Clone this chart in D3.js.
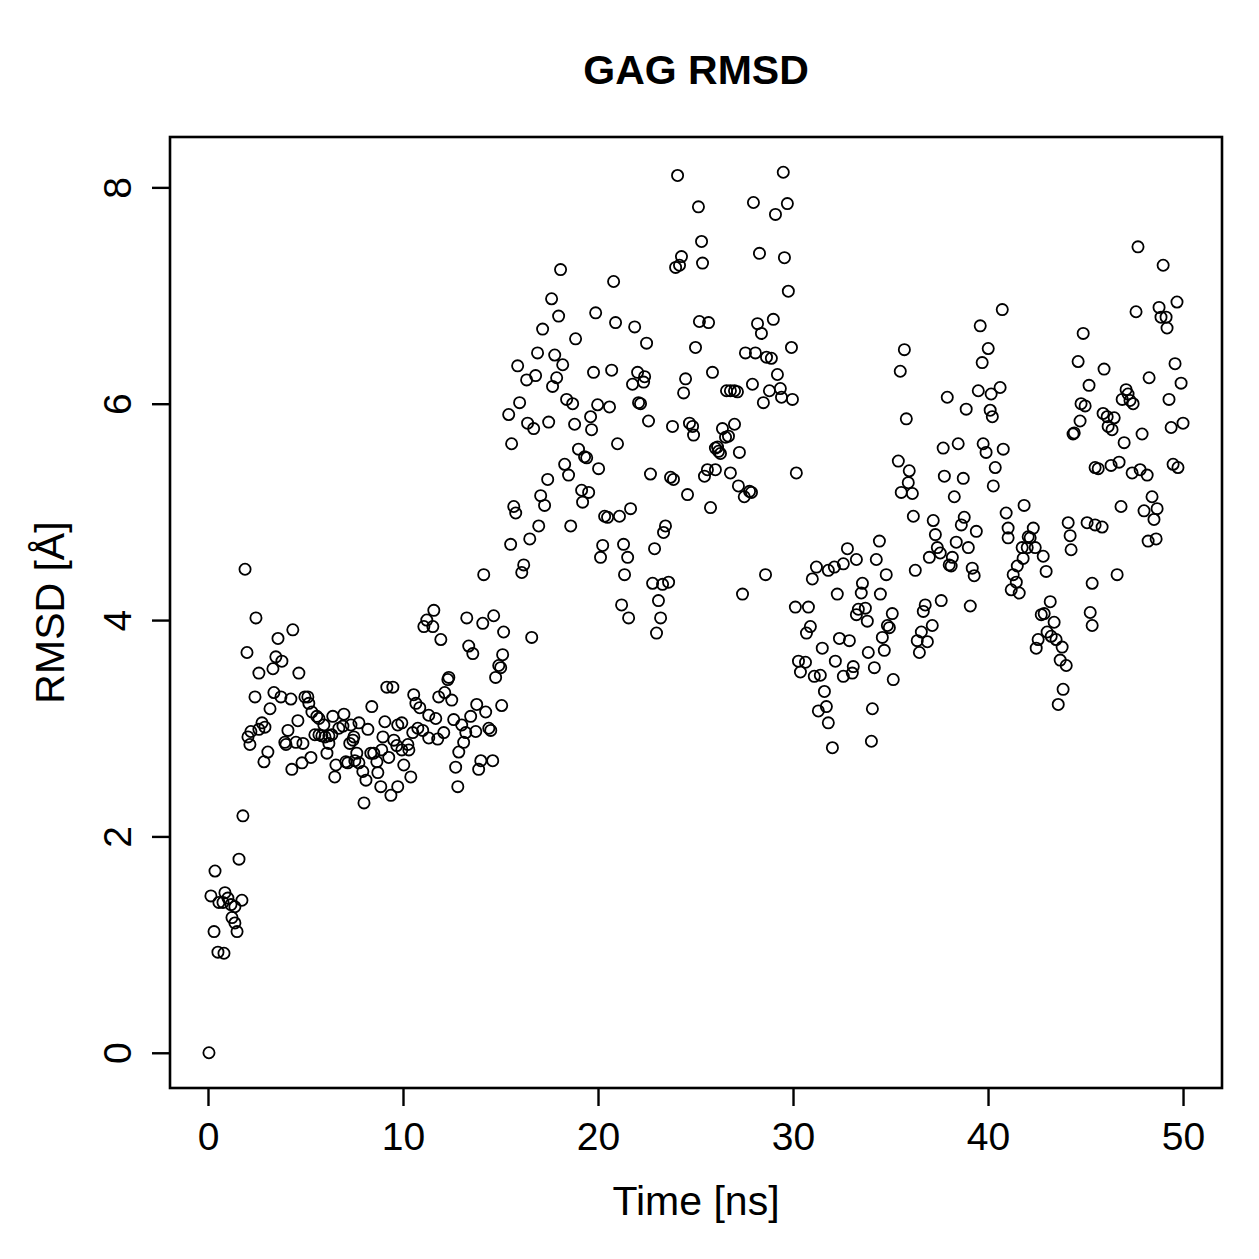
<!DOCTYPE html>
<html><head><meta charset="utf-8">
<script src="https://cdn.jsdelivr.net/npm/d3@7"></script>
<style>body{margin:0;background:#fff} text{font-family:"Liberation Sans",Arial,Helvetica,sans-serif;fill:#000}</style>
</head><body><svg id="c" width="1259" height="1259"></svg>
<script>
const title = "GAG RMSD";
const xLabel = "Time [ns]";
const yLabel = "RMSD [Å]";
const xTicks = [0, 10, 20, 30, 40, 50];
const yTicks = [0, 2, 4, 6, 8];

const timeNs = [
0.05,0.15,0.36,0.31,0.51,0.82,0.56,0.77,0.87,1.02,1.18,1.38,1.74,1.23,1.38,1.49,1.59,1.79,1.90,2.00,
2.05,2.15,2.20,2.41,2.46,2.61,2.61,2.77,2.92,2.87,3.07,3.18,3.33,3.38,3.48,3.59,3.79,3.74,3.94,4.00,
4.10,4.25,4.30,4.35,4.51,4.61,4.66,4.82,4.87,4.97,
5.12,5.17,5.33,5.58,5.69,5.28,5.48,5.69,5.84,6.00,6.20,6.35,5.94,6.40,6.20,6.10,6.71,6.92,6.97,7.33,
7.74,8.20,7.43,7.48,7.27,7.63,7.53,6.56,6.50,7.07,7.17,7.74,7.94,8.10,8.00,8.40,8.35,8.50,8.66,8.71,
8.86,9.07,8.97,8.91,9.27,9.17,9.48,9.53,9.68,9.94,9.94,9.73,9.38,9.73,10.04,
14.14,11.58,11.22,11.07,11.53,11.94,13.27,14.09,14.65,13.37,13.58,15.16,15.11,14.91,15.01,14.75,12.35,12.30,12.14,11.83,
12.50,10.55,10.66,10.86,11.32,11.68,13.78,14.24,13.47,15.06,12.60,13.01,13.22,13.11,12.86,12.70,12.81,13.73,14.40,14.50,
10.50,10.76,11.01,11.32,11.78,12.09,10.25,10.30,10.40,13.99,13.88,14.60,
18.08,17.62,17.98,19.88,17.16,18.85,16.90,17.78,18.19,15.88,16.34,16.80,17.88,17.67,19.77,15.98,15.42,18.39,18.70,19.98,
19.62,19.67,16.39,16.70,17.47,18.80,15.57,19.00,19.31,19.42,20.03,18.29,18.49,17.42,17.06,17.26,19.16,19.52,19.21,15.68,
15.78,16.96,16.50,15.52,18.60,16.19,16.09,20.24,20.13,16.60,
24.28,23.98,24.18,25.36,20.80,20.90,21.88,22.49,25.00,24.49,24.39,20.70,22.03,22.39,21.77,22.34,20.59,22.08,22.18,22.59,
23.82,24.69,24.85,24.90,21.00,22.69,23.72,23.87,24.59,21.67,21.10,20.49,20.34,23.46,23.36,21.31,21.52,22.90,21.36,22.80,
23.31,23.62,23.10,23.21,23.00,21.21,21.57,24.08,
29.50,27.97,29.71,29.10,25.15,25.31,28.28,29.56,29.76,25.20,25.67,28.18,28.38,28.99,27.56,28.07,28.64,28.89,29.92,25.87,
27.92,29.20,26.59,26.79,27.00,27.15,28.79,28.48,29.35,29.41,29.97,26.38,27.00,26.54,26.69,26.02,26.18,26.28,26.13,27.25,
25.61,25.46,26.02,26.79,27.20,27.50,27.77,27.87,25.77,30.17,28.59,27.41,
30.12,30.79,34.43,32.79,33.25,32.58,32.12,31.81,31.20,30.99,34.27,34.78,33.56,33.50,32.27,34.48,33.35,33.71,33.25,33.81,
35.09,34.84,34.94,34.58,34.68,30.89,30.69,32.38,32.89,31.50,33.86,30.28,30.64,30.38,31.09,31.40,32.17,33.09,33.04,32.58,
34.17,35.14,31.61,31.71,31.30,31.81,34.07,32.02,34.02,
39.60,40.01,39.70,35.71,35.50,37.91,38.88,39.50,40.16,40.11,40.22,35.81,37.70,38.47,39.75,39.90,40.37,40.27,35.40,35.96,
35.91,35.55,36.12,37.76,38.73,38.27,36.17,37.19,37.30,38.78,38.63,39.40,37.40,36.99,37.55,38.37,38.99,38.17,38.01,38.11,
39.19,39.29,36.27,36.78,36.68,37.60,39.09,37.14,36.58,36.89,36.37,36.48,
40.73,44.88,44.62,40.62,45.18,44.77,44.98,44.72,44.42,44.36,40.78,45.49,41.85,40.93,41.03,41.03,42.32,42.06,42.16,41.75,
42.01,42.42,42.83,41.80,42.98,41.50,41.29,41.45,41.19,41.60,45.08,45.49,44.11,44.21,44.26,45.34,43.19,42.73,42.88,43.39,
43.03,43.24,43.49,43.80,42.57,42.47,43.70,44.01,45.24,45.34,43.85,43.60,
47.69,48.98,49.69,47.59,48.77,48.87,49.13,49.18,49.59,45.95,48.26,49.90,47.08,47.18,46.88,47.28,47.44,49.28,45.90,46.11,
46.47,46.16,46.36,47.90,46.98,49.39,50.00,45.65,46.31,46.72,47.39,47.80,48.16,48.41,48.00,48.67,48.51,49.49,49.74,46.82,
45.85,48.21,48.62,46.62
];

const rmsd = [
0.00,1.45,1.68,1.12,0.93,0.92,1.39,1.39,1.48,1.43,1.37,1.35,1.41,1.25,1.20,1.12,1.79,2.19,4.47,3.70,
2.92,2.85,2.97,3.29,4.02,3.51,2.99,3.05,3.01,2.69,2.78,3.18,3.55,3.33,3.66,3.83,3.62,3.29,2.87,2.85,
2.98,3.27,2.62,3.91,2.87,3.07,3.51,2.68,2.86,3.29,
3.29,3.23,3.15,3.11,3.09,2.73,2.94,2.94,2.93,2.92,2.93,2.94,3.03,3.11,2.86,2.77,3.00,3.02,3.13,3.03,
3.05,2.99,2.89,2.92,2.86,2.77,2.70,2.66,2.55,2.69,2.68,2.68,2.60,2.52,2.31,3.20,2.77,2.77,2.69,2.59,
2.46,3.06,2.92,2.80,2.73,3.38,3.38,2.89,2.84,2.80,3.05,3.03,2.38,2.46,2.66,
4.42,4.09,4.00,3.94,3.94,3.82,4.02,3.97,4.04,3.76,3.69,3.89,3.68,3.58,3.56,3.47,3.47,3.45,3.33,3.29,
3.26,3.31,3.23,3.19,3.12,3.09,3.22,3.15,3.11,3.21,3.08,3.03,2.96,2.87,2.78,2.64,2.46,2.97,3.00,2.98,
2.96,3.00,2.98,2.91,2.90,2.96,2.85,2.80,2.55,2.70,2.62,2.70,
7.24,6.97,6.81,6.84,6.69,6.60,6.47,6.45,6.36,6.35,6.22,6.26,6.24,6.16,6.29,6.01,5.90,6.04,6.00,5.99,
5.88,5.76,5.82,5.77,5.83,5.81,5.63,5.58,5.51,5.50,5.40,5.44,5.34,5.30,5.15,5.06,5.20,5.18,5.09,5.05,
4.99,4.87,4.75,4.70,4.87,4.51,4.44,4.69,4.58,3.84,
7.36,7.26,7.28,7.30,7.13,6.75,6.71,6.56,6.52,6.23,6.10,6.31,6.29,6.25,6.18,6.20,5.97,6.01,6.00,5.84,
5.79,5.82,5.79,5.71,5.63,5.35,5.32,5.30,5.16,5.03,4.96,4.95,4.96,4.87,4.81,4.70,4.58,4.66,4.42,4.34,
4.33,4.35,4.18,4.02,3.88,4.14,4.02,8.11,
8.14,7.86,7.85,7.75,7.82,7.50,7.39,7.35,7.04,6.76,6.75,6.74,6.65,6.78,6.47,6.47,6.43,6.42,6.52,6.29,
6.18,6.27,6.12,6.12,6.12,6.11,6.12,6.01,6.14,6.06,6.04,5.77,5.81,5.69,5.70,5.59,5.56,5.54,5.60,5.55,
5.39,5.33,5.39,5.36,5.24,5.14,5.19,5.18,5.04,5.36,4.42,4.24,
4.12,4.12,4.73,4.66,4.56,4.52,4.49,4.46,4.49,4.38,4.56,4.42,4.34,4.25,4.24,4.24,4.10,4.11,4.05,3.99,
4.06,3.95,3.93,3.84,3.72,3.94,3.88,3.83,3.81,3.74,3.70,3.62,3.61,3.52,3.48,3.49,3.62,3.57,3.51,3.48,
3.56,3.45,3.34,3.20,3.16,3.05,3.18,2.82,2.88,
6.72,6.51,6.38,6.50,6.30,6.06,5.95,6.12,6.09,5.94,5.88,5.86,5.59,5.63,5.63,5.55,5.41,5.24,5.47,5.38,
5.27,5.18,5.17,5.33,5.31,5.14,4.96,4.92,4.79,4.95,4.88,4.82,4.67,4.58,4.62,4.72,4.67,4.58,4.51,4.50,
4.48,4.41,4.46,4.14,4.08,4.18,4.13,3.95,3.89,3.80,3.81,3.70,
6.87,6.65,6.39,6.15,6.17,6.00,5.98,5.84,5.73,5.72,5.58,5.41,5.06,4.99,4.85,4.76,4.85,4.77,4.76,4.67,
4.67,4.67,4.59,4.57,4.45,4.50,4.42,4.35,4.28,4.25,4.90,4.88,4.90,4.78,4.65,4.34,4.17,4.05,4.06,3.98,
3.89,3.85,3.82,3.75,3.82,3.74,3.63,3.58,4.07,3.95,3.36,3.22,
7.45,7.28,6.94,6.85,6.89,6.80,6.80,6.70,6.37,6.32,6.24,6.19,6.13,6.09,6.04,6.03,6.00,6.04,5.91,5.88,
5.87,5.79,5.76,5.72,5.64,5.78,5.82,5.40,5.43,5.46,5.36,5.39,5.34,5.14,5.01,5.03,4.93,5.44,5.41,5.05,
4.86,4.73,4.75,4.42
];

const W = 1259, H = 1259;
const L = 170, R = 1222, T = 137, B = 1088;
const svg = d3.select("#c");
svg.append("rect").attr("width", W).attr("height", H).attr("fill", "#fff");

function pad(ext) { const d = (ext[1] - ext[0]) * 0.04; return [ext[0] - d, ext[1] + d]; }
const x = d3.scaleLinear().domain(pad(d3.extent(timeNs))).range([L, R]);
const y = d3.scaleLinear().domain(pad(d3.extent(rmsd))).range([B, T]);

const pts = timeNs.map((t, i) => ({ t, r: rmsd[i] }));

svg.append("g").selectAll("circle").data(pts).join("circle")
  .attr("cx", d => x(d.t)).attr("cy", d => y(d.r)).attr("r", 5.6)
  .attr("fill", "none").attr("stroke", "#000").attr("stroke-width", 1.8);

// axes
const fsTick = 39, fsLab = 41;
const gx = svg.append("g").attr("transform", `translate(0,${B})`)
  .call(d3.axisBottom(x).tickValues(xTicks).tickSize(18).tickSizeOuter(0).tickFormat(d3.format("d")));
gx.select(".domain").remove();
gx.selectAll(".tick line").attr("stroke", "#000").attr("stroke-width", 2.4);
gx.selectAll(".tick text").attr("font-size", fsTick).attr("y", 62).attr("dy", 0)
  .attr("font-family", "Liberation Sans, Arial, sans-serif");

const gy = svg.append("g").attr("transform", `translate(${L},0)`)
  .call(d3.axisLeft(y).tickValues(yTicks).tickSize(18).tickSizeOuter(0).tickFormat(d3.format("d")));
gy.select(".domain").remove();
gy.selectAll(".tick line").attr("stroke", "#000").attr("stroke-width", 2.4);
gy.selectAll(".tick text").attr("font-size", fsTick).attr("x", 0).attr("dy", 0)
  .attr("text-anchor", "middle").attr("transform", `translate(${131 - L},0) rotate(-90)`)
  .attr("font-family", "Liberation Sans, Arial, sans-serif");

// box
svg.append("rect").attr("x", L).attr("y", T).attr("width", R - L).attr("height", B - T)
  .attr("fill", "none").attr("stroke", "#000").attr("stroke-width", 2.6);

// titles
svg.append("text").attr("x", (L + R) / 2).attr("y", 84).attr("text-anchor", "middle")
  .attr("font-size", 41).attr("font-weight", "bold").text(title);
svg.append("text").attr("x", (L + R) / 2).attr("y", 1215).attr("text-anchor", "middle")
  .attr("font-size", fsLab).text(xLabel);
svg.append("text").attr("transform", `translate(64,${(T + B) / 2}) rotate(-90)`)
  .attr("text-anchor", "middle").attr("font-size", fsLab).text(yLabel);
</script></body></html>
